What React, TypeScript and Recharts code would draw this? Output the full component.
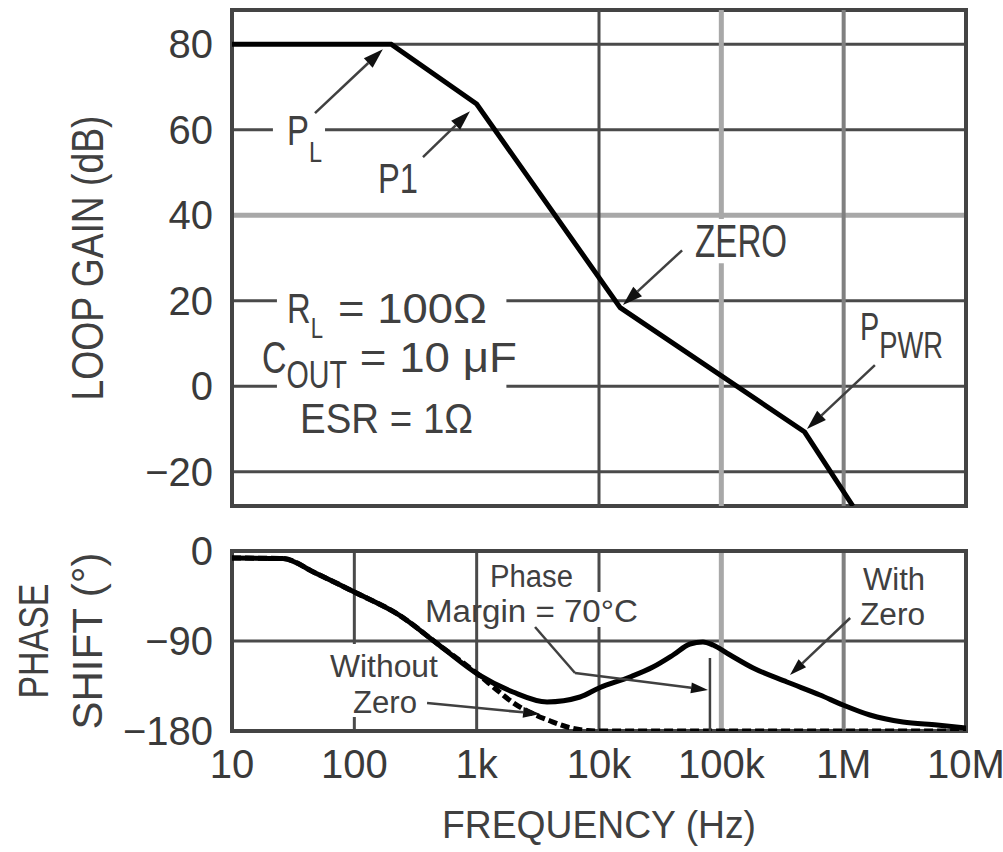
import {
  LineChart,
  Line,
  XAxis,
  YAxis,
  CartesianGrid,
  ReferenceArea,
  ReferenceLine,
  ReferenceDot,
  Label,
} from "recharts";

const FONT = "'Liberation Sans', Arial, Helvetica, sans-serif";
const INK = "#404040";

// ---- axes ----
const FREQ_TICKS = [10, 100, 1e3, 1e4, 1e5, 1e6, 1e7];
const FREQ_LABELS = ["10", "100", "1k", "10k", "100k", "1M", "10M"];
const GAIN_TICKS = [-20, 0, 20, 40, 60, 80];
const PHASE_TICKS = [-180, -90, 0];

// ---- series (f in Hz) ----
const loopGain = [
  { f: 10, v: 80 },
  { f: 200, v: 80 },
  { f: 1000, v: 66 },
  { f: 14900, v: 18.4 },
  { f: 480000, v: -10.7 },
  { f: 1190000, v: -28 },
];

const phaseWithZero = [
  { f: 10, v: -7 },
  { f: 26, v: -7.5 },
  { f: 48, v: -22 },
  { f: 100, v: -41 },
  { f: 232, v: -64 },
  { f: 492, v: -94 },
  { f: 1045, v: -124 },
  { f: 1980, v: -141 },
  { f: 3760, v: -151 },
  { f: 7000, v: -146 },
  { f: 10000, v: -137 },
  { f: 17900, v: -126 },
  { f: 27600, v: -116 },
  { f: 40300, v: -104 },
  { f: 55400, v: -93 },
  { f: 70800, v: -91 },
  { f: 85500, v: -94 },
  { f: 118000, v: -104 },
  { f: 182000, v: -117 },
  { f: 344000, v: -131 },
  { f: 641000, v: -144 },
  { f: 989000, v: -154 },
  { f: 1640000, v: -164 },
  { f: 3050000, v: -171 },
  { f: 5800000, v: -174 },
  { f: 10000000, v: -177 },
];

const phaseWithoutZero = [
  { f: 10, v: -7 },
  { f: 26, v: -7.5 },
  { f: 48, v: -22 },
  { f: 100, v: -41 },
  { f: 232, v: -64 },
  { f: 492, v: -94 },
  { f: 1045, v: -124 },
  { f: 1500, v: -140 },
  { f: 2000, v: -152 },
  { f: 2800, v: -162 },
  { f: 4000, v: -170 },
  { f: 5500, v: -176 },
  { f: 8000, v: -179.5 },
  { f: 10000, v: -180 },
  { f: 10000000, v: -180 },
];

// ---- grid lines ----
const gainGridDark = [-20, 0, 20, 60, 80];
const gainGridLight = [40];
const phaseGridDark = [-90];

// ---- annotations (data coordinates) ----
const gainNotes = [
  { f: 28.2, v: 56.4, text: "P", size: 42, sub: "L", subSize: 30, dy: 17, len: 35 },
  { f: 156, v: 45.2, text: "P1", size: 42, len: 40 },
  { f: 61000, v: 30.2, text: "ZERO", size: 46, len: 92 },
  { f: 1.36e6, v: 10.8, text: "P", size: 38, sub: "PWR", subSize: 36, dy: 18, len: 83 },
  { f: 28.2, v: 14.75, text: "R", size: 43, sub: "L", subSize: 29, dy: 15, len: 36 },
  { f: 73.5, v: 14.75, text: "= 100Ω", size: 43, len: 149 },
  { f: 17.6, v: 3.06, text: "C", size: 45, sub: "OUT", subSize: 38, dy: 15, len: 85 },
  { f: 111, v: 3.3, text: "= 10 μF", size: 43, len: 157 },
  { f: 36, v: -10.97, text: "ESR = 1Ω", size: 42, len: 173 },
];
const gainMasks = [
  { f1: 21.6, f2: 57.6, v1: 51.7, v2: 65.0 },
  { f1: 23.3, f2: 1750, v1: -14.0, v2: 22.7 },
  { f1: 55500, f2: 378000, v1: 28.8, v2: 39.1 },
];
// vertical grid runs of the gain panel that the grid component leaves out
const gainVRuns = [
  { f: 1e4, v1: -28, v2: 88, color: "#4a4a4a", w: 3 },
  { f: 1e5, v1: -28, v2: 28.8, color: "#a8a8a8", w: 5 },
  { f: 1e5, v1: 39.1, v2: 88, color: "#a8a8a8", w: 5 },
  { f: 1e6, v1: -28, v2: 88, color: "#808080", w: 4 },
];
const gainArrows = [
  { from: [47.7, 63.9], to: [171, 78.8] },
  { from: [364, 53.6], to: [882, 64.3] },
  { from: [47800, 31.8], to: [15700, 19.0] },
  { from: [1.8e6, 4.93], to: [501000, -10.0] },
];

const phaseNotes = [
  { f: 1285, v: -36, text: "Phase", size: 31, len: 83 },
  { f: 378, v: -71, text: "Margin = 70°C", size: 31, len: 213 },
  { f: 63.2, v: -126, text: "Without", size: 31, len: 108 },
  { f: 97.5, v: -162, text: "Zero", size: 31, len: 64 },
  { f: 1.44e6, v: -39, text: "With", size: 31, len: 62 },
  { f: 1.36e6, v: -74, text: "Zero", size: 31, len: 65 },
];
const phaseMasks = [
  { f1: 8450, f2: 11400, v1: -76, v2: -41 },
  { f1: 84, f2: 116, v1: -166, v2: -93 },
];
const phaseArrows = [
  { from: [393, -152], to: [3300, -163] },
  { from: [1.13e6, -67], to: [364000, -124] },
  { from: [6370, -122], to: [77800, -139] },
];
const phaseLeaders = [
  { from: [3000, -76], to: [6370, -122] },
  { from: [80700, -107], to: [80700, -180] },
];

const fmtY = (v: number) => (v < 0 ? `−${-v}` : `${v}`);
const fmtF = (v: number) => FREQ_LABELS[FREQ_TICKS.indexOf(v)] ?? `${v}`;

const tickStyle = { fill: "#3a3a3a", fontSize: 40, fontFamily: FONT };

function NoteText(props: any) {
  const { cx, cy, note } = props;
  if (cx == null || cy == null) return null;
  return (
    <text
      x={cx}
      y={cy}
      fontSize={note.size}
      fontFamily={FONT}
      fill={INK}
      textLength={note.len}
      lengthAdjust={note.len ? "spacingAndGlyphs" : undefined}
    >
      {note.text}
      {note.sub && (
        <tspan dy={note.dy} fontSize={note.subSize}>
          {note.sub}
        </tspan>
      )}
    </text>
  );
}

function ArrowShape(props: any) {
  const { x1, y1, x2, y2, head } = props;
  if ([x1, y1, x2, y2].some((n) => n == null || isNaN(n))) return null;
  const a = Math.atan2(y2 - y1, x2 - x1);
  const bx = x2 - head * Math.cos(a);
  const by = y2 - head * Math.sin(a);
  const w = head * 0.32;
  const nx = -Math.sin(a) * w;
  const ny = Math.cos(a) * w;
  return (
    <g>
      <line x1={x1} y1={y1} x2={bx} y2={by} stroke={INK} strokeWidth={2.5} />
      <polygon
        points={`${x2},${y2} ${bx + nx},${by + ny} ${bx - nx},${by - ny}`}
        fill="#111"
      />
    </g>
  );
}

function VTitle(props: any) {
  const vb = props.viewBox || { x: 0, y: 0, width: 0, height: 0 };
  const cy = vb.y + vb.height / 2;
  return (
    <g>
      {props.lines.map((l: any) => (
        <text
          key={l.text}
          x={vb.x + l.dx}
          y={cy}
          transform={`rotate(-90 ${vb.x + l.dx} ${cy})`}
          textAnchor="middle"
          dominantBaseline="central"
          fontSize={l.size}
          fontFamily={FONT}
          fill={INK}
          textLength={l.len}
          lengthAdjust="spacingAndGlyphs"
        >
          {l.text}
        </text>
      ))}
    </g>
  );
}

function HTitle(props: any) {
  const vb = props.viewBox || { x: 0, y: 0, width: 0, height: 0 };
  return (
    <text
      x={vb.x + vb.width / 2}
      y={vb.y + vb.height - 14}
      textAnchor="middle"
      fontSize={38}
      fontFamily={FONT}
      fill={INK}
      textLength={314}
      lengthAdjust="spacingAndGlyphs"
    >
      FREQUENCY (Hz)
    </text>
  );
}

export default function App() {
  return (
    <div
      style={{
        position: "absolute",
        left: 0,
        top: 0,
        width: 1003,
        height: 852,
        background: "#fff",
        overflow: "hidden",
      }}
    >
      {/* ========== LOOP GAIN ========== */}
      <div style={{ position: "absolute", left: 0, top: 0 }}>
        <LineChart width={1003} height={520} margin={{ top: 10, right: 37, bottom: 0, left: 0 }}>
          <CartesianGrid
            stroke="#4a4a4a"
            strokeWidth={3}
            horizontalValues={gainGridDark}
            verticalValues={[100, 1e3]}
          />
          <CartesianGrid stroke="#a8a8a8" strokeWidth={5} vertical={false} horizontalValues={gainGridLight} />
          <XAxis
            dataKey="f"
            type="number"
            scale="log"
            domain={[10, 1e7]}
            ticks={FREQ_TICKS}
            allowDataOverflow
            height={14}
            interval={0}
            tick={false}
            tickFormatter={fmtF}
            tickLine={false}
            axisLine={false}
          />
          <YAxis
            type="number"
            domain={[-28, 88]}
            ticks={GAIN_TICKS}
            allowDataOverflow
            width={232}
            interval={0}
            tickSize={0}
            tickMargin={19}
            tickLine={false}
            axisLine={false}
            tick={tickStyle}
            tickFormatter={fmtY}
          >
            <Label content={(p: any) => <VTitle {...p} lines={[{ text: "LOOP GAIN (dB)", dx: 87, size: 44, len: 285 }]} />} />
          </YAxis>
          {gainVRuns.map((r, i) => (
            <ReferenceLine
              key={`gv${i}`}
              segment={[
                { x: r.f, y: r.v1 },
                { x: r.f, y: r.v2 },
              ]}
              stroke={r.color}
              strokeWidth={r.w}
            />
          ))}
          {gainMasks.map((m, i) => (
            <ReferenceArea key={`gm${i}`} x1={m.f1} x2={m.f2} y1={m.v1} y2={m.v2} fill="#fff" fillOpacity={1} stroke="none" />
          ))}
          <ReferenceArea x1={10} x2={1e7} y1={-28} y2={88} fill="none" stroke="#444" strokeWidth={4} ifOverflow="visible" />
          <Line data={loopGain} dataKey="v" type="linear" stroke="#000" strokeWidth={5} dot={false} isAnimationActive={false} />
          {gainArrows.map((a, i) => (
            <ReferenceLine
              key={`ga${i}`}
              segment={[
                { x: a.from[0], y: a.from[1] },
                { x: a.to[0], y: a.to[1] },
              ]}
              shape={(p: any) => <ArrowShape {...p} head={20} />}
            />
          ))}
          {gainNotes.map((n, i) => (
            <ReferenceDot key={`gn${i}`} x={n.f} y={n.v} r={0} shape={(p: any) => <NoteText {...p} note={n} />} />
          ))}
        </LineChart>
      </div>

      {/* ========== PHASE SHIFT ========== */}
      <div style={{ position: "absolute", left: 0, top: 520 }}>
        <LineChart width={1003} height={332} margin={{ top: 31, right: 37, bottom: 0, left: 0 }}>
          <CartesianGrid stroke="#4a4a4a" strokeWidth={3} horizontalValues={phaseGridDark} verticalValues={[100, 1e3, 1e4]} />
          <CartesianGrid stroke="#a8a8a8" strokeWidth={5} horizontal={false} verticalValues={[1e5]} />
          <CartesianGrid stroke="#808080" strokeWidth={4} horizontal={false} verticalValues={[1e6]} />
          <XAxis
            dataKey="f"
            type="number"
            scale="log"
            domain={[10, 1e7]}
            ticks={FREQ_TICKS}
            allowDataOverflow
            height={121}
            interval={0}
            tickSize={0}
            tickMargin={19}
            tickLine={false}
            axisLine={false}
            tick={tickStyle}
            tickFormatter={fmtF}
          >
            <Label content={(p: any) => <HTitle {...p} />} />
          </XAxis>
          <YAxis
            type="number"
            domain={[-180, 0]}
            ticks={PHASE_TICKS}
            allowDataOverflow
            width={232}
            interval={0}
            tickSize={0}
            tickMargin={19}
            tickLine={false}
            axisLine={false}
            tick={tickStyle}
            tickFormatter={fmtY}
          >
            <Label
              content={(p: any) => (
                <VTitle
                  {...p}
                  lines={[
                    { text: "PHASE", dx: 33, size: 42, len: 115 },
                    { text: "SHIFT (°)", dx: 87, size: 42, len: 177 },
                  ]}
                />
              )}
            />
          </YAxis>
          {phaseMasks.map((m, i) => (
            <ReferenceArea key={`pm${i}`} x1={m.f1} x2={m.f2} y1={m.v1} y2={m.v2} fill="#fff" fillOpacity={1} stroke="none" />
          ))}
          <ReferenceArea x1={10} x2={1e7} y1={-180} y2={0} fill="none" stroke="#444" strokeWidth={4} ifOverflow="visible" />
          <Line
            data={phaseWithoutZero}
            dataKey="v"
            type="monotone"
            stroke="#000"
            strokeWidth={5}
            strokeDasharray="9 4"
            dot={false}
            isAnimationActive={false}
          />
          <Line data={phaseWithZero} dataKey="v" type="monotone" stroke="#000" strokeWidth={5} dot={false} isAnimationActive={false} />
          {phaseLeaders.map((a, i) => (
            <ReferenceLine
              key={`pl${i}`}
              segment={[
                { x: a.from[0], y: a.from[1] },
                { x: a.to[0], y: a.to[1] },
              ]}
              stroke={INK}
              strokeWidth={2.5}
            />
          ))}
          {phaseArrows.map((a, i) => (
            <ReferenceLine
              key={`pa${i}`}
              segment={[
                { x: a.from[0], y: a.from[1] },
                { x: a.to[0], y: a.to[1] },
              ]}
              shape={(p: any) => <ArrowShape {...p} head={17} />}
            />
          ))}
          {phaseNotes.map((n, i) => (
            <ReferenceDot key={`pn${i}`} x={n.f} y={n.v} r={0} shape={(p: any) => <NoteText {...p} note={n} />} />
          ))}
        </LineChart>
      </div>
    </div>
  );
}
